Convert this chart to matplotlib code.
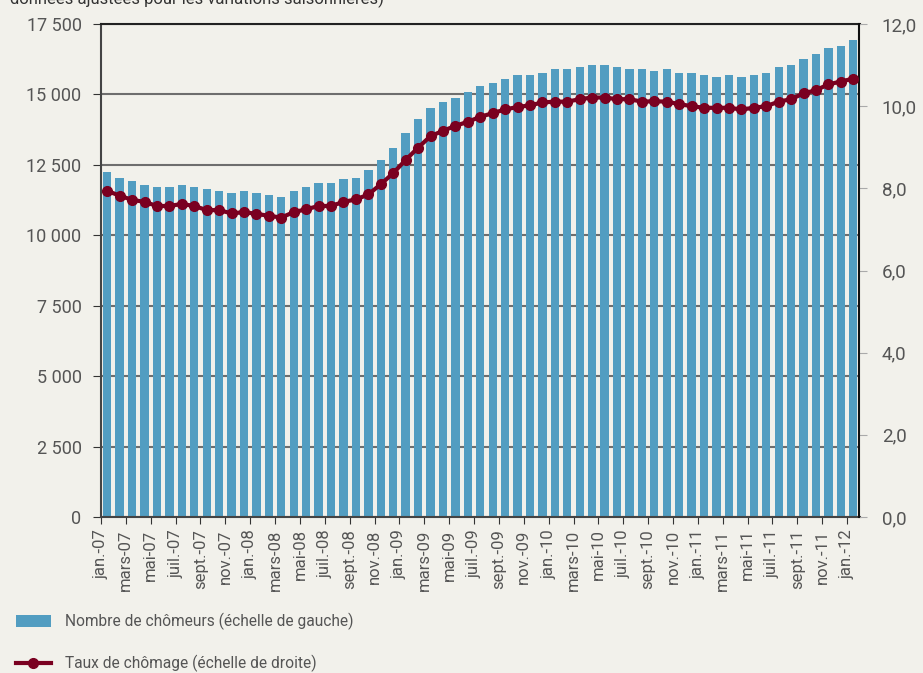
import numpy as np
import matplotlib
matplotlib.use("Agg")
import matplotlib.pyplot as plt
import matplotlib.ticker as mticker
from matplotlib.patches import Patch
from matplotlib.lines import Line2D

# monthly labels, jan-07 .. jan-12
months = ['jan.', 'févr.', 'mars', 'avr.', 'mai', 'juin',
          'juil.', 'août', 'sept.', 'oct.', 'nov.', 'déc.']
years = ['07', '08', '09', '10', '11', '12']
periods = [f'{m}-{y}' for y in years for m in months][:61]

# unemployed (thousands), left scale
chomeurs = [12251, 12038, 11932, 11790, 11719, 11719, 11790, 11719, 11648, 11577,
            11506, 11577, 11506, 11435, 11364, 11577, 11719, 11861, 11861, 12003,
            12038, 12322, 12678, 13104, 13636, 14134, 14524, 14737, 14879, 15092,
            15305, 15412, 15554, 15696, 15696, 15767, 15909, 15909, 15980, 16051,
            16051, 15980, 15909, 15909, 15838, 15909, 15767, 15767, 15696, 15625,
            15696, 15625, 15696, 15767, 15980, 16051, 16264, 16442, 16655, 16726,
            16939]

# unemployment rate (%), right scale
taux = [7.94, 7.82, 7.72, 7.67, 7.57, 7.57, 7.62, 7.57, 7.47, 7.47,
        7.39, 7.42, 7.38, 7.33, 7.29, 7.42, 7.49, 7.57, 7.57, 7.67,
        7.73, 7.85, 8.10, 8.37, 8.69, 8.99, 9.27, 9.40, 9.52, 9.62,
        9.74, 9.83, 9.92, 9.98, 10.02, 10.09, 10.11, 10.11, 10.17, 10.21,
        10.21, 10.17, 10.17, 10.11, 10.12, 10.11, 10.05, 10.00, 9.96, 9.96,
        9.96, 9.92, 9.96, 10.00, 10.11, 10.17, 10.31, 10.39, 10.53, 10.60,
        10.67]

bg = '#f2f1eb'
bar_color = '#529dc1'
line_color = '#7a0020'
text_color = '#555555'

plt.rcParams['font.family'] = ['Roboto', 'DejaVu Sans']

fig = plt.figure(figsize=(9.23, 6.73), dpi=100, facecolor=bg)
ax = fig.add_axes([101 / 923, 1 - 517 / 673, (859.5 - 101) / 923, (517 - 24) / 673])
ax.set_facecolor(bg)

x = np.arange(len(periods))
ax.bar(x, chomeurs, width=0.67, color=bar_color, zorder=2)
ax.set_xlim(-0.5, len(periods) - 0.5)
ax.set_ylim(0, 17500)
ax.yaxis.set_major_locator(mticker.MultipleLocator(2500))
ax.yaxis.set_major_formatter(mticker.FuncFormatter(lambda v, p: f'{v:,.0f}'.replace(',', ' ')))
ax.grid(axis='y', color='#6e6e6e', linewidth=1.5, zorder=0)
ax.set_axisbelow(True)

ax.set_xticks(x[::2] - 0.5)
ax.set_xticklabels(periods[::2], rotation=90, fontsize=12, color=text_color)
ax.tick_params(axis='x', length=5, color='#333333', pad=4)
ax.tick_params(axis='y', length=6, color='#333333', labelsize=13, labelcolor=text_color, pad=8)

for side in ['left', 'bottom']:
    ax.spines[side].set_color('#444444')
    ax.spines[side].set_linewidth(1.5)
ax.spines['top'].set_color('#222222')
ax.spines['top'].set_linewidth(1.5)
ax.spines['right'].set_visible(False)

ax2 = ax.twinx()
ax2.plot(x, taux, color=line_color, linewidth=3, marker='o', markersize=7, zorder=3)
ax2.set_ylim(0, 12)
ax2.yaxis.set_major_locator(mticker.MultipleLocator(2))
ax2.yaxis.set_major_formatter(mticker.FuncFormatter(lambda v, p: f'{v:.1f}'.replace('.', ',')))
ax2.tick_params(axis='y', length=6, color='#aaaaaa', labelsize=13.5, labelcolor=text_color, pad=10)
for side in ['left', 'bottom', 'top']:
    ax2.spines[side].set_visible(False)
ax2.spines['right'].set_color('#111111')
ax2.spines['right'].set_linewidth(1.5)

# subtitle, cut by the top edge as in the source page
fig.text(10 / 923, 1 - 4 / 673, 'données ajustées pour les variations saisonnières)',
         fontsize=12, color='#333333', va='baseline', ha='left')

handles = [Patch(facecolor=bar_color, edgecolor='none'),
           Line2D([], [], color=line_color, linewidth=3, marker='o', markersize=7)]
labels = ['Nombre de chômeurs (échelle de gauche)', 'Taux de chômage (échelle de droite)']
fig.legend(handles, labels, loc='upper left', bbox_to_anchor=(0.005, 1 - 602 / 673),
           frameon=False, fontsize=11.2, labelcolor=text_color, handlelength=2.3,
           handleheight=0.8, handletextpad=0.9, labelspacing=1.6, borderaxespad=0.3)

fig.savefig('out.png', dpi=100, facecolor=bg)
